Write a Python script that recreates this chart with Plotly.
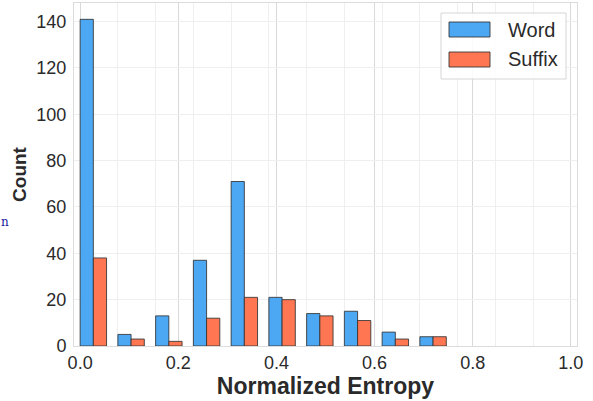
import numpy as np
import plotly.graph_objects as go

# Data
n_bins = 13
bin_edges = np.linspace(0.0, 1.0, n_bins + 1)
word_counts = [141, 5, 13, 37, 71, 21, 14, 15, 6, 4, 0, 0, 0]
suffix_counts = [38, 3, 2, 12, 21, 20, 13, 11, 3, 4, 0, 0, 0]
series_names = ["Word", "Suffix"]
x_ticks = [0.0, 0.2, 0.4, 0.6, 0.8, 1.0]
y_ticks = [0, 20, 40, 60, 80, 100, 120, 140]

word_color = "#4DA8F4"
suffix_color = "#FF7752"
edge_color = "rgba(50,50,50,0.85)"

bw = bin_edges[1] - bin_edges[0]
bar_w = 0.35 * bw
left = bin_edges[:-1]

W, H = 593, 401
L, R, T, B = 74, 16, 3, 55
PW, PH = W - L - R, H - T - B


def px(xp):
    return (xp - L) / PW


def py(yp):
    return (H - B - yp) / PH


def lw(counts):
    return [1 if c > 0 else 0 for c in counts]


fig = go.Figure()
fig.add_trace(go.Bar(x=left + bar_w / 2, y=word_counts, width=bar_w, name=series_names[0],
                     marker=dict(color=word_color, line=dict(color=edge_color, width=lw(word_counts))),
                     showlegend=False))
fig.add_trace(go.Bar(x=left + 1.5 * bar_w, y=suffix_counts, width=bar_w, name=series_names[1],
                     marker=dict(color=suffix_color, line=dict(color=edge_color, width=lw(suffix_counts))),
                     showlegend=False))

font_family = "Liberation Sans, Arial, sans-serif"

fig.update_layout(
    width=W, height=H,
    margin=dict(l=L, r=R, t=T, b=B, autoexpand=False),
    plot_bgcolor="white", paper_bgcolor="white",
    barmode="overlay",
    font=dict(family=font_family, color="#2a2a2a"),
    xaxis=dict(range=[-0.0125, 1.0125], tickvals=x_ticks, ticktext=[f"{v:.1f}" for v in x_ticks],
               tickfont=dict(size=18), showgrid=True, gridcolor="#d9d9d9", gridwidth=1,
               minor=dict(tickvals=list(bin_edges), showgrid=True, gridcolor="#efefef", gridwidth=1),
               zeroline=False, showline=True, linecolor="#dcdcdc", mirror=True, ticks="",
               ticklabelstandoff=0,
               title=dict(text="<b>Normalized Entropy</b>", font=dict(size=23), standoff=4)),
    yaxis=dict(range=[0, 148.05], tickvals=y_ticks, tickfont=dict(size=18), showgrid=True,
               gridcolor="#efefef", gridwidth=1, zeroline=False, showline=True, linecolor="#dcdcdc",
               mirror=True, ticks="", ticklabelstandoff=3,
               title=dict(text="<b>Count</b>", font=dict(size=19), standoff=4)),
)

# Custom legend
shapes = []
shapes.append(dict(type="rect", xref="paper", yref="paper", x0=px(441), x1=px(566), y0=py(79), y1=py(13),
                   line=dict(color="#d6d6d6", width=1), fillcolor="rgba(255,255,255,0.85)", layer="above"))
for (y0, y1), col in [((22, 37), word_color), ((52, 67), suffix_color)]:
    shapes.append(dict(type="rect", xref="paper", yref="paper", x0=px(449), x1=px(490), y0=py(y1), y1=py(y0),
                       line=dict(color=edge_color, width=1), fillcolor=col, layer="above"))
fig.update_layout(shapes=shapes)

for name, yc in zip(series_names, [30, 59]):
    fig.add_annotation(xref="paper", yref="paper", x=px(506), y=py(yc), text=name, showarrow=False,
                       xanchor="left", yanchor="middle", font=dict(size=20, color="#2a2a2a"))

# stray small text at far left
fig.add_annotation(xref="paper", yref="paper", x=px(0), y=py(222), text="n", showarrow=False,
                   xanchor="left", yanchor="middle", borderpad=0,
                   font=dict(size=12, color="#1a1aa0", family="DejaVu Serif, serif"))

fig.write_html("out.html", config={"displayModeBar": False},
               post_script="document.body.style.margin='0';")
